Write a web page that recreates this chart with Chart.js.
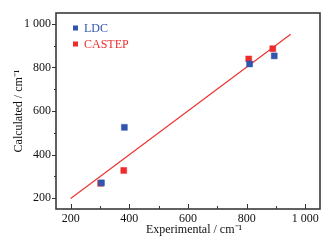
<!DOCTYPE html>
<html><head><meta charset="utf-8">
<script src="https://cdn.jsdelivr.net/npm/chart.js@4"></script>
<style>html,body{margin:0;padding:0;background:#fff}#wrap{width:328px;height:245px}</style>
</head><body><div id="wrap"><canvas id="c" width="328" height="245"></canvas></div>
<script>
const ldcExp = [305, 383, 810, 894];
const ldcCalc = [270, 525, 816, 853];
const castepExp = [302, 381, 807, 889];
const castepCalc = [268, 327, 839, 886];
const fitX = [200, 950];
const fitY = [198, 952];
const majorTicks = [200, 400, 600, 800, 1000];
const minorTicks = [300, 500, 700, 900];
const seriesNames = ['LDC', 'CASTEP'];
const xTitle = 'Experimental / cm⁻¹';
const yTitle = 'Calculated / cm⁻¹';

const BLUE = '#2f55ad';
const RED = '#ee2c2c';
const FONT = "'Liberation Serif','Times New Roman',serif";
const fmt = v => v >= 1000 ? String(v).replace(/(\d)(\d{3})$/, '$1 $2') : String(v);
const pts = (xs, ys) => xs.map((x, i) => ({x, y: ys[i]}));

const frame = {
  id: 'frame',
  afterDatasetsDraw(chart) {
    const {ctx, chartArea: a, scales: {x, y}} = chart;
    ctx.save();
    ctx.strokeStyle = '#333';
    ctx.lineWidth = 1;
    majorTicks.concat(minorTicks).forEach(v => {
      const len = majorTicks.includes(v) ? 5 : 3;
      const px = Math.round(x.getPixelForValue(v)) + 0.5;
      ctx.beginPath(); ctx.moveTo(px, a.bottom); ctx.lineTo(px, a.bottom - len); ctx.stroke();
      const py = Math.round(y.getPixelForValue(v)) + 0.5;
      ctx.beginPath(); ctx.moveTo(a.left, py); ctx.lineTo(a.left - len + 1, py); ctx.stroke();
    });
    ctx.lineWidth = 1.6;
    ctx.strokeStyle = '#3a3a3a';
    ctx.strokeRect(a.left, a.top, a.right - a.left, a.bottom - a.top);
    // legend
    const items = [{t: seriesNames[0], c: BLUE}, {t: seriesNames[1], c: RED}];
    ctx.font = "12px " + FONT;
    ctx.textBaseline = 'middle';
    items.forEach((it, i) => {
      const cy = a.top + 15 + i * 16;
      ctx.fillStyle = it.c;
      ctx.fillRect(a.left + 17, cy - 2.5, 5, 5);
      ctx.fillText(it.t, a.left + 28, cy + 0.5);
    });
    // x title
    ctx.fillStyle = '#111';
    ctx.textAlign = 'center';
    ctx.fillText(xTitle, (a.left + a.right) / 2 + 6, 230);
    ctx.restore();
  }
};

new Chart(document.getElementById('c'), {
  type: 'scatter',
  data: {
    datasets: [
      {label: 'fit', type: 'line', data: pts(fitX, fitY), borderColor: '#ea3a36', borderWidth: 1.3, pointRadius: 0, fill: false, order: 3},
      {label: seriesNames[1], data: pts(castepExp, castepCalc), backgroundColor: RED, borderColor: 'rgba(238,44,44,0.5)', borderWidth: 1, pointStyle: 'rect', pointRadius: 4.2, order: 2},
      {label: seriesNames[0], data: pts(ldcExp, ldcCalc), backgroundColor: BLUE, borderColor: 'rgba(47,85,173,0.5)', borderWidth: 1, pointStyle: 'rect', pointRadius: 4.2, order: 1}
    ]
  },
  options: {
    responsive: false,
    animation: false,
    devicePixelRatio: 1,
    layout: {padding: {top: 13, right: 8, left: 0, bottom: 0}},
    plugins: {legend: {display: false}, tooltip: {enabled: false}},
    scales: {
      x: {
        type: 'linear', min: 150, max: 1050,
        afterBuildTicks: s => { s.ticks = majorTicks.map(v => ({value: v})); },
        afterFit: s => { s.height = 36; },
        grid: {display: false, drawTicks: false},
        border: {display: false},
        ticks: {callback: v => fmt(v), color: '#111', font: {family: FONT, size: 12}, padding: 3, maxRotation: 0},
        title: {display: false}
      },
      y: {
        type: 'linear', min: 150, max: 1050,
        afterBuildTicks: s => { s.ticks = majorTicks.map(v => ({value: v})); },
        afterFit: s => { s.width = 56; },
        grid: {display: false, drawTicks: false},
        border: {display: false},
        ticks: {callback: v => fmt(v), color: '#111', font: {family: FONT, size: 12}, padding: 5},
        title: {display: true, text: yTitle, color: '#111', font: {family: FONT, size: 12}, padding: {top: 12, bottom: 0}}
      }
    }
  },
  plugins: [frame]
});
</script></body></html>
